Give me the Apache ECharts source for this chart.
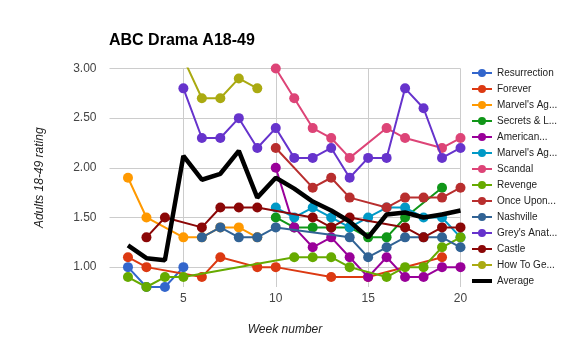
<!DOCTYPE html>
<html>
<head>
<meta charset="utf-8">
<script src="https://cdn.jsdelivr.net/npm/echarts@6/dist/echarts.min.js"></script>
<style>html,body{margin:0;padding:0;background:#fff}#c{width:570px;height:355px}</style>
</head>
<body>
<div id="c"></div>
<script>
const weeks = [1,2,3,4,5,6,7,8,9,10,11,12,13,14,15,16,17,18,19,20];
const yTicks = [1.0, 1.5, 2.0, 2.5, 3.0];
const xTicks = [5, 10, 15, 20];

const seriesNames = ["Resurrection","Forever","Marvel's Agents of S.H.I.E.L.D.","Secrets & Lies","American Crime","Marvel's Agent Carter","Scandal","Revenge","Once Upon a Time","Nashville","Grey's Anatomy","Castle","How To Get Away With Murder","Average"];
const legendLabels = ["Resurrection","Forever","Marvel's Ag...","Secrets & L...","American...","Marvel's Ag...","Scandal","Revenge","Once Upon...","Nashville","Grey's Anat...","Castle","How To Ge...","Average"];
const colors = ["#3366cc","#dc3912","#ff9900","#109618","#990099","#0099c6","#dd4477","#66aa00","#b82e2e","#316395","#6633cc","#8b0707","#aaaa11","#000000"];

//                  1    2    3    4    5    6    7    8    9    10   11   12   13   14   15   16   17   18   19   20
const resurrection = [null,1.0, 0.8, 0.8, 1.0, null,null,null,null,null,null,null,null,null,null,null,null,null,null,null];
const forever      = [null,1.1, 1.0, null,null,0.9, 1.1, null,1.0, 1.0, null,null,0.9, null,0.9, null,null,null,1.1, null];
const shield       = [null,1.9, 1.5, null,1.3, 1.3, 1.4, 1.4, 1.3, null,null,null,null,null,null,null,null,null,null,null];
const secrets      = [null,null,null,null,null,null,null,null,null,1.5, 1.4, 1.4, 1.4, 1.4, 1.3, 1.3, 1.5, null,1.8, null];
const american     = [null,null,null,null,null,null,null,null,null,2.0, 1.4, 1.2, 1.3, 1.1, 0.9, 1.1, 0.9, 0.9, 1.0, 1.0];
const carter       = [null,null,null,null,null,null,null,null,null,1.6, 1.5, 1.6, 1.5, 1.4, 1.5, 1.6, 1.6, 1.5, 1.5, 1.3];
const scandal      = [null,null,null,null,null,null,null,null,null,3.0, 2.7, 2.4, 2.3, 2.1, null,2.4, 2.3, null,2.2, 2.3];
const revenge      = [null,0.9, 0.8, 0.9, 0.9, null,null,null,null,null,1.1, 1.1, 1.1, 1.0, null,0.9, 1.0, 1.0, 1.2, 1.3];
const onceUpon     = [null,null,null,null,null,null,null,null,null,2.2, null,1.8, 1.9, 1.7, null,1.6, 1.7, 1.7, 1.7, 1.8];
const nashville    = [null,null,null,null,null,1.3, 1.4, 1.3, 1.3, 1.4, null,null,null,1.3, 1.1, 1.2, 1.3, 1.3, 1.3, 1.2];
const greys        = [null,null,null,null,2.8, 2.3, 2.3, 2.5, 2.2, 2.4, 2.1, 2.1, 2.2, 1.9, 2.1, 2.1, 2.8, 2.6, 2.1, 2.2];
const castle       = [null,null,1.3, 1.5, null,1.4, 1.6, 1.6, 1.6, null,null,1.5, 1.4, 1.5, null,null,1.4, 1.3, 1.4, 1.4];
const howToGet     = [null,null,null,null,3.1, 2.7, 2.7, 2.9, 2.8, null,null,null,null,null,null,null,null,null,null,null];
const average      = [null,1.22,1.09,1.07,2.12,1.88,1.94,2.17,1.70,1.90,1.79,1.66,1.57,1.46,1.30,1.53,1.55,1.50,1.53,1.57];

const allData = [resurrection, forever, shield, secrets, american, carter, scandal, revenge, onceUpon, nashville, greys, castle, howToGet, average];

const FONT = "Arial, 'Liberation Sans', sans-serif";
const avgIndex = allData.length - 1;

const series = allData.map((d, i) => {
  const isAvg = i === avgIndex;
  return {
    name: seriesNames[i],
    type: 'line',
    data: d,
    connectNulls: true,
    symbol: isAvg ? 'none' : 'circle',
    symbolSize: 10,
    showSymbol: !isAvg,
    color: colors[i],
    lineStyle: { width: isAvg ? 4.5 : 2, color: colors[i] },
    itemStyle: { color: colors[i] },
    clip: true,
    animation: false,
    z: 2 + i
  };
});

const legendData = seriesNames.map((n, i) => i === avgIndex
  ? { name: n, icon: 'path://M0,0L20,0L20,4L0,4Z' }
  : { name: n });

const chart = echarts.init(document.getElementById('c'), null, { renderer: 'canvas' });
chart.setOption({
  animation: false,
  backgroundColor: '#fff',
  title: {
    text: 'ABC Drama A18-49',
    left: 109, top: 33, padding: 0,
    textStyle: { fontFamily: FONT, fontSize: 16, fontWeight: 'bold', color: '#000' }
  },
  grid: { left: 109.5, right: 109.5, top: 68.5, bottom: 68, containLabel: false },
  legend: {
    orient: 'vertical',
    left: 471, top: 68, padding: 0,
    itemWidth: 20, itemHeight: 10, itemGap: 6,
    data: legendData,
    formatter: (name) => legendLabels[seriesNames.indexOf(name)],
    textStyle: { fontFamily: FONT, fontSize: 10, color: '#222', lineHeight: 10 }
  },
  xAxis: {
    type: 'category',
    data: weeks,
    boundaryGap: false,
    name: 'Week number',
    nameLocation: 'middle',
    nameGap: 37,
    nameTextStyle: { fontFamily: FONT, fontSize: 12, fontStyle: 'italic', color: '#222' },
    axisLine: { show: false },
    axisTick: { show: false },
    axisLabel: {
      interval: (idx, val) => xTicks.indexOf(Number(val)) >= 0,
      fontFamily: FONT, fontSize: 12, color: '#444', margin: 6
    },
    splitLine: {
      show: true,
      interval: (idx, val) => xTicks.indexOf(Number(val)) >= 0,
      lineStyle: { color: '#cccccc', width: 1 }
    }
  },
  yAxis: {
    type: 'value',
    min: 0.8, max: 3.0,
    name: 'Adults 18-49 rating',
    nameLocation: 'middle',
    nameRotate: 90,
    nameGap: 64,
    nameTextStyle: { fontFamily: FONT, fontSize: 12, fontStyle: 'italic', color: '#222' },
    axisLine: { show: false },
    axisTick: { show: false, customValues: yTicks },
    axisLabel: {
      customValues: yTicks,
      formatter: (v) => Number(v).toFixed(2),
      fontFamily: FONT, fontSize: 12, color: '#444', margin: 13
    },
    splitLine: { show: true, lineStyle: { color: '#cccccc', width: 1 } }
  },
  series: series
});
</script>
</body>
</html>
